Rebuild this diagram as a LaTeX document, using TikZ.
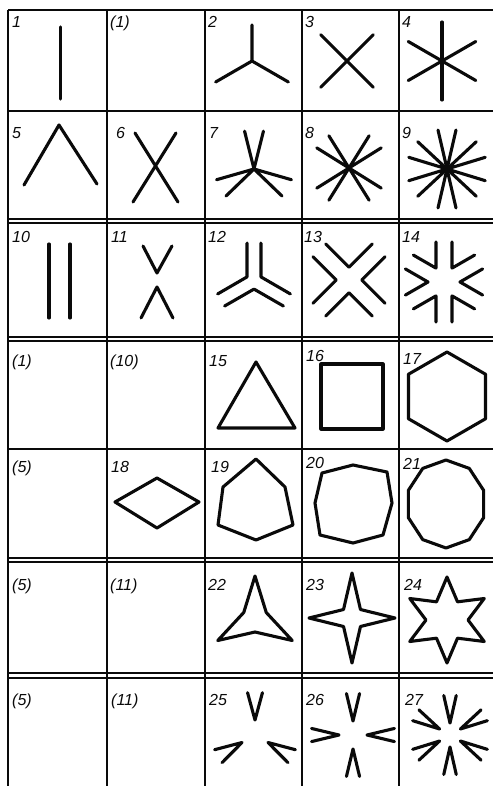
\documentclass[tikz,border=0pt]{standalone}
\usepackage{fontspec}
\newfontfamily\gostfont{Liberation Sans}
\definecolor{myink}{rgb}{0.04,0.04,0.04}

\begin{document}
\begin{tikzpicture}[x=1pt,y=1pt,
  rule/.style={myink,line width=1.6pt},
  glyph/.style={myink,line width=3.1pt,line cap=round,line join=round},
  cellno/.style={font=\gostfont\itshape\fontsize{16}{16}\selectfont,anchor=base west,inner sep=0pt,text=myink}]
  \useasboundingbox (0,0) rectangle (493,-786);
  % table rules
  \draw[rule] (8,-10) -- (493,-10);
  \foreach \ry in {111,219,223,337,341,449,558,562,673,678}
    \draw[rule] (8,-\ry) -- (493,-\ry);
  \foreach \rx in {8,107,205,302,399}
    \draw[rule] (\rx,-10) -- (\rx,-786);
  % cell numbers
  \foreach \lx/\ly/\lt [count=\li] in {
      12/28/1, 110/28/{(1)}, 208/28/2, 305/28/3, 402/28/4,
      12/139/5, 116/139/6, 209/139/7, 305/139/8, 402/139/9,
      12/242/10, 111/242/11, 208/242/12, 304/242/13, 402/242/14,
      12/366/{(1)}, 110/366/{(10)}, 209/366/15, 306/361/16, 403/364/17,
      12/472/{(5)}, 111/472/18, 211/472/19, 306/468/20, 403/469/21,
      12/590/{(5)}, 110/590/{(11)}, 208/590/22, 306/590/23, 404/590/24,
      12/705/{(5)}, 111/705/{(11)}, 209/705/25, 306/705/26, 405/705/27}
    \node[cellno] (no\li) at (\lx,-\ly) {\lt};
  % row 1
  \draw[glyph] (60.5,-27) -- (60.5,-99);
  \begin{scope}[shift={(252,-61)}]
    \draw[glyph] (0,0) -- (90:36) (0,0) -- (210:42) (0,0) -- (330:42);
  \end{scope}
  \begin{scope}[shift={(347,-61)}]
    \foreach \a in {45,135,225,315} \draw[glyph] (0,0) -- (\a:37);
  \end{scope}
  \begin{scope}[shift={(442,-61)}]
    \foreach \a in {30,90,...,330} \draw[glyph] (0,0) -- (\a:39);
  \end{scope}
  % row 2
  \draw[glyph] (24,-185) -- (59,-125) -- (97,-184);
  \draw[glyph] (135,-133) -- (178,-202) (176,-133) -- (133,-202);
  \begin{scope}[shift={(254,-169)}]
    \foreach \a in {90,210,330} \draw[glyph] (\a-14:39) -- (0,0) -- (\a+14:39);
  \end{scope}
  \begin{scope}[shift={(349,-168)}]
    \foreach \a in {45,135,225,315} \draw[glyph] (\a-13:38) -- (0,0) -- (\a+13:38);
  \end{scope}
  \begin{scope}[shift={(447,-169)}]
    \foreach \a in {30,90,...,330} \draw[glyph] (\a-13:40) -- (0,0) -- (\a+13:40);
  \end{scope}
  % row 3
  \draw[glyph] (49,-244) -- (49,-318) (70,-244) -- (70,-318);
  \draw[glyph] (143,-246) -- (157,-273) -- (172,-246) (141,-318) -- (157,-287) -- (173,-318);
  \begin{scope}[shift={(254,-281)}]
    \foreach \a in {90,210,330} \draw[glyph] (\a+10.4:38.6) -- (\a+60:8.1) -- (\a+109.6:38.6);
  \end{scope}
  \begin{scope}[shift={(349,-280)}]
    \foreach \a in {45,135,225,315} \draw[glyph] (\a+12.1:43) -- (\a+45:12.7) -- (\a+77.9:43);
  \end{scope}
  \begin{scope}[shift={(444,-282)}]
    \foreach \a in {30,90,...,330} \draw[glyph] (\a+11.3:40.8) -- (\a+30:16) -- (\a+48.7:40.8);
  \end{scope}
  % row 4
  \draw[glyph] (256,-362) -- (295,-428) -- (218,-428) -- cycle;
  \draw[glyph] (321,-364) rectangle (383,-429);
  \begin{scope}[shift={(447,-396.5)}]
    \draw[glyph] (90:44.5) -- (150:44.5) -- (210:44.5) -- (270:44.5) -- (330:44.5) -- (30:44.5) -- cycle;
  \end{scope}
  % row 5
  \draw[glyph] (115,-502) -- (157,-478) -- (199,-502) -- (157,-528) -- cycle;
  \draw[glyph] (256,-459) -- (285,-487) -- (293,-525) -- (256,-540) -- (218,-525) -- (223,-487) -- cycle;
  \draw[glyph] (322,-473) -- (353,-465) -- (387,-472) -- (392,-503) -- (383,-535) -- (353,-543) -- (320,-535) -- (315,-503) -- cycle;
  \begin{scope}[shift={(446,-504)},xscale=0.9]
    \draw[glyph] (90:44) \foreach \k in {1,...,9} { -- (90+36*\k:44)} -- cycle;
  \end{scope}
  % row 6
  \begin{scope}[shift={(255,-619)}]
    \draw[glyph] (90:43) -- (30:13) -- (330:43) -- (270:13) -- (210:43) -- (150:13) -- cycle;
  \end{scope}
  \begin{scope}[shift={(352,-618)}]
    \draw[glyph] (90:45) -- (45:12) -- (0:43) -- (315:12) -- (270:45) -- (225:12) -- (180:43) -- (135:12) -- cycle;
  \end{scope}
  \begin{scope}[shift={(447,-620)}]
    \draw[glyph] (90:43) -- (60:21) -- (30:43) -- (0:21) -- (330:43) -- (300:21) -- (270:43) -- (240:21)
      -- (210:43) -- (180:21) -- (150:43) -- (120:21) -- cycle;
  \end{scope}
  % row 7
  \begin{scope}[shift={(255,-735)}]
    \foreach \a in {90,210,330} \draw[glyph] (\a-10:43) -- (\a:15) -- (\a+10:43);
  \end{scope}
  \begin{scope}[shift={(353,-735)}]
    \foreach \a in {0,90,180,270} \draw[glyph] (\a-9:42) -- (\a:14) -- (\a+9:42);
  \end{scope}
  \begin{scope}[shift={(450,-735)}]
    \foreach \a in {30,90,...,330} \draw[glyph] (\a-9:40) -- (\a:12) -- (\a+9:40);
  \end{scope}
\end{tikzpicture}
\end{document}
